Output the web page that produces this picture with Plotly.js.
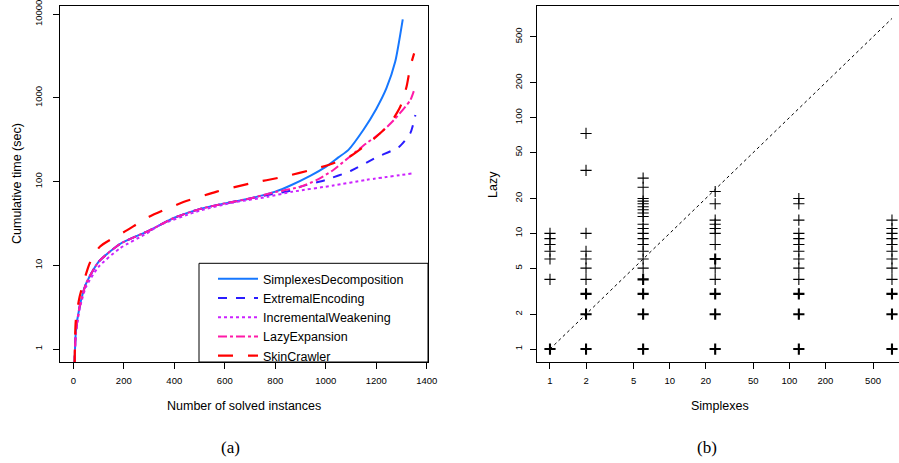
<!DOCTYPE html>
<html><head><meta charset="utf-8">
<script src="https://cdn.plot.ly/plotly-3.0.1.min.js"></script>
<style>html,body{margin:0;padding:0;background:#fff}#chart{width:899px;height:463px}</style>
</head><body><div id="chart"></div>
<script>
// ---- Panel (a): cumulative time vs number of solved instances ----
const seriesNames = ["SimplexesDecomposition","ExtremalEncoding","IncrementalWeakening","LazyExpansion","SkinCrawler"];
const simplexesX = [5,10,25,50,100,185,300,400,500,600,700,800,860,940,1000,1050,1090,1150,1200,1240,1275,1305];
const simplexesY = [0.65,1.6,3.2,6,11,18,26,37,47,55,63,76,90,118,150,195,240,420,740,1300,2700,8700];
const extremalX = [5,10,25,50,100,185,300,400,500,600,700,800,860,900,1000,1100,1200,1290,1335,1355];
const extremalY = [0.65,1.6,3.2,6,11,18,26,37,47,55,63,72,78,87,105,135,195,260,380,625];
const incrementalX = [5,10,25,50,100,185,290,340,500,630,770,870,1030,1160,1350];
const incrementalY = [0.65,1.5,3,5.5,9.6,16,24,30,45,56,66,76,90,105,126];
const lazyExpX = [5,10,25,50,100,185,300,400,500,600,700,800,900,965,1030,1095,1160,1215,1270,1335,1350];
const lazyExpY = [0.65,1.6,3.2,6,11,18,26,37,47,55,63,75,87,105,138,199,286,378,545,944,1240];
const skinX = [5,10,25,65,105,215,300,436,568,700,830,965,1030,1095,1150,1200,1255,1295,1320,1335,1350];
const skinY = [0.65,2.2,4.2,10.6,16.7,26.5,38,57,76,95,114,144,166,199,261,344,497,785,1360,2360,3410];
const aXTicks = [0,200,400,600,800,1000,1200,1400];
const aYTicks = [1,10,100,1000,10000];

// ---- Panel (b): Lazy vs Simplexes ----
const simplexesCol = [1,1,1,1,1,1,1,
  2,2,2,2,2,2,2,2,2,2,
  6,6,6,6,6,6,6,6,6,6,6,6,6,6,6,6,6,6,6,6,6,
  24,24,24,24,24,24,24,24,24,24,24,24,24,
  120,120,120,120,120,120,120,120,120,120,120,120,120,
  720,720,720,720,720,720,720,720,720,720,720,720];
const lazyVal = [1,4,6,7,8,9,10,
  1,2,3,4,5,6,7,10,35,73,
  1,2,3,4,5,6,7,8,9,10,11,12,14,15,16,17,18,19,20,25,30,
  1,2,3,4,5,6,8,10,11,12,13,18,23,
  1,2,3,4,5,6,7,8,9,10,13,18,20,
  1,2,3,4,5,6,7,8,9,10,11,13];
const lazyMult = [4,1,1,1,1,1,1,
  4,3,3,1,1,1,1,1,1,1,
  4,3,3,3,1,1,1,1,1,1,1,1,1,1,1,1,1,1,1,1,1,
  4,3,3,1,1,2,1,1,1,1,1,1,1,
  4,2,2,1,1,1,1,1,1,1,1,1,1,
  4,2,2,1,1,1,1,1,1,1,1,1];
const diagX = [1,720];
const diagY = [1,720];
const bTicks = [1,2,5,10,20,50,100,200,500];

const W = 899, H = 463;
const px = v => v / W, py = v => (H - v) / H;
const tickFont = {family:"Liberation Sans, Arial, sans-serif", size:9.5, color:"#000"};
const labFont = {family:"Liberation Sans, Arial, sans-serif", size:12.5, color:"#000"};

const lineStyles = [
  {color:"#1677ff", dash:"solid", width:2},
  {color:"#2a1cff", dash:"dash", width:2},
  {color:"#cc22ff", dash:"dot", width:2},
  {color:"#ff1aa8", dash:"dashdot", width:2},
  {color:"#ff0000", dash:"longdash", width:2.2}
];
const xs = [simplexesX, extremalX, incrementalX, lazyExpX, skinX];
const ys = [simplexesY, extremalY, incrementalY, lazyExpY, skinY];

const traces = seriesNames.map((n,i) => ({
  type:"scatter", mode:"lines", name:n, x:xs[i], y:ys[i],
  line:Object.assign({shape:"spline", smoothing:0.6}, lineStyles[i]),
  xaxis:"x", yaxis:"y", showlegend:true
}));

traces.push({
  type:"scatter", mode:"lines", x:diagX, y:diagY, xaxis:"x2", yaxis:"y2",
  line:{color:"#000", dash:"dot", width:1}, showlegend:false, hoverinfo:"skip"
});
traces.push({
  type:"scatter", mode:"markers", x:simplexesCol, y:lazyVal, xaxis:"x2", yaxis:"y2",
  marker:{symbol:"cross-thin", size:8, color:"#000",
    line:{color:"#000", width:lazyMult.map(m => m > 1 ? 2.1 : 1.1)}},
  showlegend:false
});

const axBase = {
  showgrid:false, zeroline:false, showline:true, linecolor:"#000", linewidth:1,
  mirror:true, ticks:"outside", ticklen:6, tickcolor:"#000", tickwidth:1,
  tickfont:tickFont, ticklabeloverflow:"allow"
};

const layout = {
  width:W, height:H, margin:{l:0,r:0,t:0,b:0},
  paper_bgcolor:"#fff", plot_bgcolor:"#fff",
  showlegend:true,
  xaxis:Object.assign({}, axBase, {domain:[px(60), px(428)], range:[-52.7,1405],
    tickvals:aXTicks, ticktext:aXTicks.map(String), anchor:"y", ticklabelstandoff:4}),
  yaxis:Object.assign({}, axBase, {domain:[py(362), py(6)], type:"log", range:[-0.155,4.099],
    tickvals:aYTicks, ticktext:aYTicks.map(String), tickangle:-90, anchor:"x", ticklabelstandoff:7}),
  xaxis2:Object.assign({}, axBase, {domain:[px(536.7), 1], type:"log", range:[-0.111,2.916],
    tickvals:bTicks, ticktext:bTicks.map(String), anchor:"y2", ticklabelstandoff:4}),
  yaxis2:Object.assign({}, axBase, {domain:[py(362), py(6)], type:"log", range:[-0.112,2.965],
    tickvals:bTicks, ticktext:bTicks.map(String), tickangle:-90, anchor:"x2", ticklabelstandoff:4}),
  legend:{x:px(213), y:py(264), xanchor:"left", yanchor:"top", bgcolor:"rgba(0,0,0,0)",
    borderwidth:0, font:{family:"Liberation Sans, Arial, sans-serif", size:12.5, color:"#000"},
    tracegroupgap:0, itemwidth:40},
  shapes:[{type:"rect", xref:"paper", yref:"paper", x0:px(199), x1:px(428), y0:py(362), y1:py(263.3),
    line:{color:"#000", width:1}, fillcolor:"rgba(0,0,0,0)", layer:"above"}],
  annotations:[
    {text:"Cumulative time (sec)", xref:"paper", yref:"paper", x:px(17), y:py(184), textangle:-90,
     showarrow:false, font:labFont, xanchor:"center", yanchor:"middle"},
    {text:"Number of solved instances", xref:"paper", yref:"paper", x:px(244), y:py(406),
     showarrow:false, font:labFont, xanchor:"center", yanchor:"middle"},
    {text:"Lazy", xref:"paper", yref:"paper", x:px(493), y:py(184), textangle:-90,
     showarrow:false, font:labFont, xanchor:"center", yanchor:"middle"},
    {text:"Simplexes", xref:"paper", yref:"paper", x:px(720), y:py(406),
     showarrow:false, font:labFont, xanchor:"center", yanchor:"middle"},
    {text:"(a)", xref:"paper", yref:"paper", x:px(230), y:py(447),
     showarrow:false, font:{family:"Liberation Serif, Times New Roman, serif", size:17, color:"#000"}, xanchor:"center", yanchor:"middle"},
    {text:"(b)", xref:"paper", yref:"paper", x:px(707), y:py(447),
     showarrow:false, font:{family:"Liberation Serif, Times New Roman, serif", size:17, color:"#000"}, xanchor:"center", yanchor:"middle"}
  ]
};

Plotly.newPlot("chart", traces, layout, {displayModeBar:false, staticPlot:true});
</script>
</body></html>
